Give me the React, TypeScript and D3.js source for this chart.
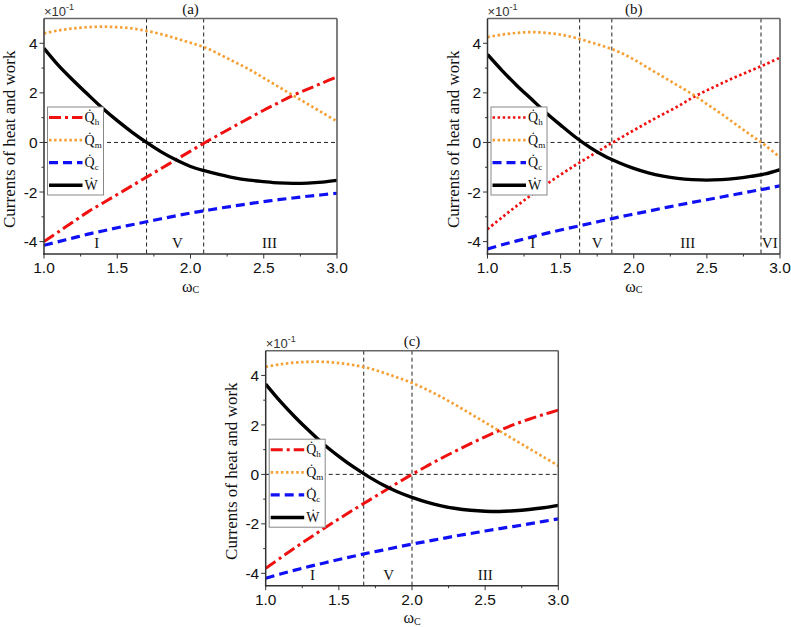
import React from 'react';
import * as d3 from 'd3';

// ---------- data (values in units of 10^-1) ----------
const omega = [1.0, 1.1, 1.2, 1.3, 1.4, 1.5, 1.6, 1.7, 1.8, 1.9, 2.0, 2.1, 2.2, 2.3, 2.4, 2.5, 2.6, 2.7, 2.8, 2.9, 3.0];

// panel (a)
const qhA = [-4.0, -3.6, -3.2, -2.8, -2.45, -2.1, -1.75, -1.4, -1.05, -0.7, -0.35, 0.0, 0.33, 0.66, 0.98, 1.3, 1.6, 1.9, 2.15, 2.4, 2.65];
const qmA = [4.4, 4.52, 4.6, 4.65, 4.67, 4.65, 4.6, 4.5, 4.37, 4.2, 4.02, 3.83, 3.55, 3.25, 2.95, 2.6, 2.25, 1.9, 1.55, 1.2, 0.85];
const qcA = [-4.15, -4.0, -3.85, -3.7, -3.57, -3.44, -3.32, -3.2, -3.08, -2.96, -2.85, -2.75, -2.65, -2.56, -2.47, -2.39, -2.31, -2.24, -2.17, -2.11, -2.05];
const wA = [3.8, 3.1, 2.5, 1.93, 1.38, 0.88, 0.42, 0.0, -0.38, -0.7, -0.97, -1.15, -1.3, -1.43, -1.52, -1.58, -1.63, -1.65, -1.64, -1.6, -1.53];

// panel (b)
const qhB = [-3.5, -3.02, -2.56, -2.12, -1.7, -1.3, -0.92, -0.56, -0.2, 0.15, 0.49, 0.82, 1.14, 1.45, 1.8, 2.1, 2.38, 2.65, 2.9, 3.15, 3.42];
const qmB = [4.25, 4.35, 4.42, 4.45, 4.42, 4.35, 4.22, 4.05, 3.87, 3.65, 3.35, 3.0, 2.65, 2.3, 1.95, 1.55, 1.15, 0.72, 0.3, -0.12, -0.6];
const qcB = [-4.3, -4.13, -3.97, -3.82, -3.67, -3.53, -3.4, -3.27, -3.14, -3.01, -2.89, -2.77, -2.65, -2.53, -2.42, -2.31, -2.2, -2.09, -1.98, -1.87, -1.75];
const wB = [3.55, 2.9, 2.3, 1.75, 1.2, 0.7, 0.22, -0.2, -0.55, -0.82, -1.05, -1.23, -1.36, -1.45, -1.5, -1.52, -1.5, -1.45, -1.37, -1.27, -1.1];

// panel (c)
const qhC = [-3.8, -3.38, -2.97, -2.57, -2.18, -1.8, -1.43, -1.07, -0.71, -0.35, 0.0, 0.33, 0.65, 0.95, 1.24, 1.52, 1.78, 2.02, 2.23, 2.42, 2.6];
const qmC = [4.35, 4.45, 4.52, 4.55, 4.55, 4.5, 4.42, 4.3, 4.12, 3.92, 3.7, 3.43, 3.13, 2.8, 2.45, 2.1, 1.75, 1.4, 1.05, 0.7, 0.35];
const qcC = [-4.2, -4.03, -3.87, -3.72, -3.58, -3.44, -3.31, -3.18, -3.06, -2.94, -2.82, -2.71, -2.6, -2.49, -2.39, -2.29, -2.19, -2.1, -2.0, -1.9, -1.8];
const wC = [3.65, 2.95, 2.32, 1.74, 1.2, 0.73, 0.3, -0.08, -0.42, -0.7, -0.93, -1.12, -1.27, -1.38, -1.45, -1.49, -1.5, -1.47, -1.42, -1.35, -1.25];

// boundaries and region labels
const vlinesA = [1.7, 2.09];
const vlinesB = [1.63, 1.85, 2.87];
const vlinesC = [1.67, 2.0];
const regionNamesA = ['I', 'V', 'III'];
const regionXA = [1.36, 1.91, 2.54];
const regionNamesB = ['I', 'V', 'III', 'VI'];
const regionXB = [1.31, 1.75, 2.37, 2.93];
const regionNamesC = ['I', 'V', 'III'];
const regionXC = [1.32, 1.84, 2.5];

const xMajor = [1.0, 1.5, 2.0, 2.5, 3.0];
const xMajorLabels = ['1.0', '1.5', '2.0', '2.5', '3.0'];
const xMinor = [1.25, 1.75, 2.25, 2.75];
const yMajor = [-4, -2, 0, 2, 4];
const yMajorLabels = ['-4', '-2', '0', '2', '4'];
const yMinor = [-3, -1, 1, 3];

const RED = '#f01010';
const ORANGE = '#f5a035';
const BLUE = '#1010f5';
const BLACK = '#000000';

type Series = { name: string; sub: string; values: number[]; color: string; dash: string; width: number };

const mkSeries = (qh: number[], qm: number[], qc: number[], w: number[], qhDotted: boolean): Series[] => [
  { name: 'Q', sub: 'h', values: qh, color: RED, dash: qhDotted ? '2.5,2.6' : '12,4,3,4', width: qhDotted ? 2.7 : 3 },
  { name: 'Q', sub: 'm', values: qm, color: ORANGE, dash: '2.5,2.6', width: 2.7 },
  { name: 'Q', sub: 'c', values: qc, color: BLUE, dash: '9,5', width: 3.2 },
  { name: 'W', sub: '', values: w, color: BLACK, dash: '', width: 3.4 },
];

type PanelCfg = {
  id: string; tag: string; left: number; top: number; width: number; height: number;
  series: Series[]; vlines: number[]; regionNames: string[]; regionX: number[];
};

const panels: PanelCfg[] = [
  { id: 'a', tag: '(a)', left: 44, top: 18.5, width: 293, height: 235.5, series: mkSeries(qhA, qmA, qcA, wA, false), vlines: vlinesA, regionNames: regionNamesA, regionX: regionXA },
  { id: 'b', tag: '(b)', left: 487.5, top: 18.5, width: 292.5, height: 235.5, series: mkSeries(qhB, qmB, qcB, wB, true), vlines: vlinesB, regionNames: regionNamesB, regionX: regionXB },
  { id: 'c', tag: '(c)', left: 265.7, top: 350.7, width: 292.6, height: 235, series: mkSeries(qhC, qmC, qcC, wC, false), vlines: vlinesC, regionNames: regionNamesC, regionX: regionXC },
];

const SERIF = '"Liberation Serif", "Times New Roman", serif';
const SANS = '"Liberation Sans", Arial, sans-serif';

function Panel({ p }: { p: PanelCfg }) {
  const x = d3.scaleLinear().domain([1, 3]).range([p.left, p.left + p.width]);
  const y = d3.scaleLinear().domain([-4.5, 5]).range([p.top + p.height, p.top]);
  const bottom = p.top + p.height;
  const right = p.left + p.width;
  const line = d3.line<number>().x((_, i) => x(omega[i])).y((d) => y(d)).curve(d3.curveCatmullRom);
  const lgX = p.left + 3.5;
  const lgY = p.top + 88.5;
  const lgW = 56;
  const lgH = 88;
  const clipId = `clip-${p.id}`;
  return (
    <g>
      <defs>
        <clipPath id={clipId}>
          <rect x={p.left} y={p.top} width={p.width} height={p.height} />
        </clipPath>
      </defs>
      {/* zero line */}
      <line x1={p.left} x2={right} y1={y(0)} y2={y(0)} stroke="#222" strokeWidth={1} strokeDasharray="4,3" />
      {/* boundaries */}
      {p.vlines.map((v, i) => (
        <line key={i} x1={x(v)} x2={x(v)} y1={p.top} y2={bottom} stroke="#222" strokeWidth={1} strokeDasharray="4,3" />
      ))}
      {/* curves */}
      <g clipPath={`url(#${clipId})`}>
        {p.series.map((s, i) => (
          <path key={i} d={line(s.values) || ''} fill="none" stroke={s.color} strokeWidth={s.width} strokeDasharray={s.dash || undefined} />
        ))}
      </g>
      {/* region labels */}
      {p.regionNames.map((r, i) => (
        <text key={i} x={x(p.regionX[i])} y={bottom - 6} textAnchor="middle" fontFamily={SERIF} fontSize={15} fill="#111">{r}</text>
      ))}
      {/* legend */}
      <rect x={lgX} y={lgY} width={lgW} height={lgH} fill="#fff" stroke="#888" strokeWidth={1} />
      {p.series.map((s, i) => {
        const ly = lgY + 10.5 + i * 22.6;
        return (
          <g key={i}>
            <line x1={lgX + 1.5} x2={lgX + 35} y1={ly} y2={ly} stroke={s.color} strokeWidth={s.width} strokeDasharray={s.dash || undefined} />
            <text x={lgX + 37} y={ly + 4.5} fontFamily={SERIF} fontSize={14} fill="#111">
              {s.name === 'W' ? '\u1E86' : 'Q\u0307'}
              {s.sub ? <tspan fontSize={9} dy={3}>{s.sub}</tspan> : null}
            </text>
          </g>
        );
      })}
      {/* frame */}
      <line x1={p.left} x2={right} y1={p.top} y2={p.top} stroke="#666" strokeWidth={1.5} />
      <line x1={right} x2={right} y1={p.top} y2={bottom} stroke="#555" strokeWidth={1.5} />
      <line x1={p.left} x2={p.left} y1={p.top} y2={bottom + 0.75} stroke="#333" strokeWidth={1.5} />
      <line x1={p.left - 0.75} x2={right} y1={bottom} y2={bottom} stroke="#333" strokeWidth={1.5} />
      {/* x ticks */}
      {xMajor.map((v, i) => (
        <g key={i}>
          <line x1={x(v)} x2={x(v)} y1={bottom} y2={bottom + 4.5} stroke="#333" strokeWidth={1} />
          <text x={x(v)} y={bottom + 19} textAnchor="middle" fontFamily={SANS} fontSize={15.5} fill="#111">{xMajorLabels[i]}</text>
        </g>
      ))}
      {xMinor.map((v, i) => (
        <line key={i} x1={x(v)} x2={x(v)} y1={bottom} y2={bottom + 2.5} stroke="#333" strokeWidth={1} />
      ))}
      {/* y ticks */}
      {yMajor.map((v, i) => (
        <g key={i}>
          <line x1={p.left - 4.5} x2={p.left} y1={y(v)} y2={y(v)} stroke="#333" strokeWidth={1} />
          <text x={p.left - 6.5} y={y(v) + 5.6} textAnchor="end" fontFamily={SANS} fontSize={15.5} fill="#111">{yMajorLabels[i]}</text>
        </g>
      ))}
      {yMinor.map((v, i) => (
        <line key={i} x1={p.left - 2.5} x2={p.left} y1={y(v)} y2={y(v)} stroke="#333" strokeWidth={1} />
      ))}
      {/* scale factor */}
      <text x={p.left} y={p.top - 3} fontFamily={SANS} fontSize={13} fill="#333">
        ×10<tspan fontSize={9} dy={-6}>-1</tspan>
      </text>
      {/* panel tag */}
      <text x={p.left + p.width / 2} y={p.top - 5} textAnchor="middle" fontFamily={SERIF} fontSize={15} fill="#111">{p.tag}</text>
      {/* x title */}
      <text x={p.left + p.width / 2} y={bottom + 37.5} textAnchor="middle" fontFamily={SERIF} fontSize={16} fill="#111">
        ω<tspan fontSize={10} dy={1.5}>C</tspan>
      </text>
      {/* y title */}
      <text transform={`translate(${p.left - 29},${p.top + p.height / 2 + 3}) rotate(-90)`} textAnchor="middle" fontFamily={SERIF} fontSize={17} fill="#111">
        Currents of heat and work
      </text>
    </g>
  );
}

export default function App() {
  return (
    <svg width={791} height={627} style={{ position: 'absolute', left: 0, top: 0, background: '#fff' }}>
      <rect x={0} y={0} width={791} height={627} fill="#fff" />
      {panels.map((p) => (
        <Panel key={p.id} p={p} />
      ))}
    </svg>
  );
}
